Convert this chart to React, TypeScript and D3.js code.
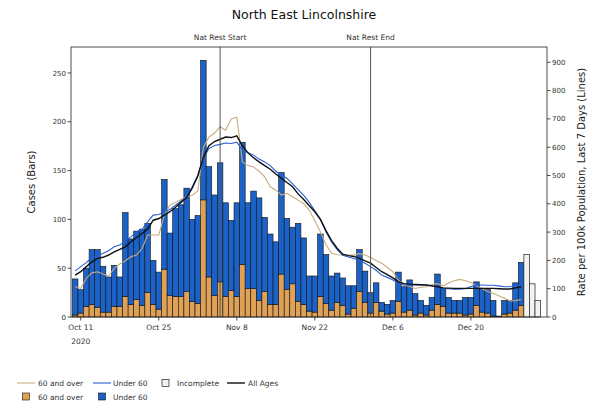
import React from "react";
import * as d3 from "d3";

const DAY = 86400000;
const START = Date.UTC(2020, 9, 10);

// Daily cases (bars), from Oct 10 2020
const over60Cases = [2, 4, 11, 13, 10, 5, 5, 11, 11, 21, 13, 18, 12, 25, 13, 8, 49, 22, 21, 21, 26, 16, 14, 120, 41, 22, 36, 21, 27, 21, 54, 29, 29, 17, 26, 13, 13, 44, 28, 34, 16, 13, 6, 5, 21, 14, 7, 15, 12, 3, 9, 26, 15, 4, 15, 6, 3, 4, 16, 5, 7, 2, 4, 2, 7, 13, 11, 4, 4, 4, 2, 3, 12, 5, 4, 1, 0, 3, 4, 7, 12];
const under60Cases = [37, 24, 39, 56, 59, 47, 36, 42, 30, 86, 67, 70, 78, 71, 45, 38, 92, 64, 90, 94, 106, 84, 90, 143, 113, 103, 122, 96, 72, 96, 125, 88, 100, 105, 76, 72, 64, 104, 73, 58, 80, 68, 36, 37, 64, 50, 35, 30, 28, 29, 23, 43, 32, 21, 20, 9, 10, 13, 30, 26, 31, 22, 13, 10, 13, 31, 18, 16, 13, 13, 18, 17, 24, 24, 24, 16, 1, 14, 13, 28, 44];
const incompleteCases = [64, 34, 17];

// 7-day rate per 100k (lines)
const rateOver60 = [107, 101, 137, 156, 160, 152, 145, 172, 187, 199, 213, 219, 242, 290, 290, 290, 360, 395, 405, 415, 425, 430, 445, 600, 636, 650, 672, 660, 700, 706, 548, 535, 530, 515, 495, 460, 448, 431, 437, 425, 413, 400, 378, 340, 300, 255, 225, 220, 219, 219, 219, 224, 219, 210, 200, 190, 175, 160, 130, 113, 108, 101, 105, 107, 115, 118, 110, 120, 128, 133, 128, 122, 110, 100, 90, 84, 75, 66, 57, 58, 62];
const rateUnder60 = [163, 178, 192, 211, 215, 225, 234, 248, 254, 269, 283, 301, 310, 336, 360, 362, 372, 380, 395, 410, 425, 460, 501, 560, 595, 606, 610, 615, 613, 618, 590, 580, 572, 558, 548, 535, 515, 500, 490, 470, 450, 430, 405, 375, 345, 300, 265, 238, 218, 212, 207, 200, 190, 178, 165, 148, 140, 131, 118, 113, 113, 113, 113, 113, 110, 105, 101, 100, 98, 98, 100, 108, 113, 113, 112, 112, 110, 107, 107, 110, 113];
const rateAllAges = [148, 160, 178, 195, 207, 211, 219, 230, 239, 248, 266, 281, 295, 311, 342, 348, 360, 372, 388, 405, 422, 455, 498, 565, 605, 620, 628, 636, 634, 640, 605, 580, 563, 548, 535, 522, 505, 490, 475, 460, 435, 415, 393, 372, 345, 305, 270, 243, 222, 217, 214, 207, 198, 190, 175, 160, 150, 138, 124, 118, 116, 115, 114, 113, 110, 107, 103, 102, 101, 101, 101, 101, 101, 101, 101, 101, 100, 99, 99, 103, 107];

const xTickDates = ["2020-10-11", "2020-10-25", "2020-11-08", "2020-11-22", "2020-12-06", "2020-12-20"];
const xTickLabels = ["Oct 11", "Oct 25", "Nov 8", "Nov 22", "Dec 6", "Dec 20"];
const yearLabel = "2020";
const casesTicks = [0, 50, 100, 150, 200, 250];
const rateTicks = [0, 100, 200, 300, 400, 500, 600, 700, 800, 900];
const eventDates = ["2020-11-05", "2020-12-02"];
const eventLabels = ["Nat Rest Start", "Nat Rest End"];

const BLUE = "#1a62c8";
const ORANGE = "#dea155";
const TAN = "#c9ab7c";
const LBLUE = "#2a5fd6";
const FONT = "DejaVu Sans, sans-serif";

const L = 71, R = 547, T = 47, B = 317;

export default function App() {
  const x = d3.scaleUtc().domain([START - 0.75 * DAY, START + 84.65 * DAY]).range([L, R]);
  const yL = d3.scaleLinear().domain([0, 276.6]).range([B, T]);
  const yR = d3.scaleLinear().domain([0, 954]).range([B, T]);
  const bw = x(START + DAY) - x(START);
  const dateOf = (i: number) => START + i * DAY;

  const mkLine = (vals: number[]) =>
    d3.line<number>().x((_, i) => x(dateOf(i))).y((v) => yR(v))(vals) || "";

  const parse = (s: string) => {
    const [yy, mm, dd] = s.split("-").map(Number);
    return Date.UTC(yy, mm - 1, dd);
  };

  const txt = "#333";

  return (
    <div style={{ position: "absolute", left: 0, top: 0 }}>
      <svg width={604} height={408} style={{ display: "block", background: "#fff" }} fontFamily={FONT}>
        <rect x={0} y={0} width={604} height={408} fill="#fff" />
        <text x={304} y={19} textAnchor="middle" fontSize={12.5} fill="#111">North East Lincolnshire</text>

        {/* bars */}
        {over60Cases.map((o, i) => {
          const u = under60Cases[i];
          const cx = x(dateOf(i));
          return (
            <g key={i}>
              <rect x={cx - bw / 2} y={yL(o)} width={bw} height={yL(0) - yL(o)} fill={ORANGE} stroke="#111" strokeWidth={0.6} />
              <rect x={cx - bw / 2} y={yL(o + u)} width={bw} height={yL(o) - yL(o + u)} fill={BLUE} stroke="#111" strokeWidth={0.6} />
            </g>
          );
        })}
        {incompleteCases.map((v, j) => {
          const cx = x(dateOf(over60Cases.length + j));
          return <rect key={"inc" + j} x={cx - bw / 2} y={yL(v)} width={bw} height={yL(0) - yL(v)} fill="#f2f2f2" stroke="#222" strokeWidth={0.7} />;
        })}

        {/* lines */}
        <path d={mkLine(rateOver60)} fill="none" stroke={TAN} strokeWidth={1.1} />
        <path d={mkLine(rateUnder60)} fill="none" stroke={LBLUE} strokeWidth={1.1} />
        <path d={mkLine(rateAllAges)} fill="none" stroke="#111" strokeWidth={1.4} />

        {/* event lines */}
        {eventDates.map((d, k) => {
          const ex = x(parse(d));
          return (
            <g key={"ev" + k}>
              <line x1={ex} x2={ex} y1={T} y2={B} stroke="#555" strokeWidth={1} />
              <text x={ex} y={40} textAnchor="middle" fontSize={7.5} fill={txt}>{eventLabels[k]}</text>
            </g>
          );
        })}

        {/* frame */}
        <rect x={L} y={T} width={R - L} height={B - T} fill="none" stroke="#222" strokeWidth={0.8} />

        {/* left axis */}
        {casesTicks.map((t) => (
          <g key={"l" + t}>
            <line x1={L - 3.5} x2={L} y1={yL(t)} y2={yL(t)} stroke="#222" strokeWidth={0.8} />
            <text x={L - 5} y={yL(t) + 2.6} textAnchor="end" fontSize={7} fill={txt}>{t}</text>
          </g>
        ))}
        <text transform={`translate(35,${(T + B) / 2}) rotate(-90)`} textAnchor="middle" fontSize={10} fill="#222">Cases (Bars)</text>

        {/* right axis */}
        {rateTicks.map((t) => (
          <g key={"r" + t}>
            <line x1={R} x2={R + 3.5} y1={yR(t)} y2={yR(t)} stroke="#222" strokeWidth={0.8} />
            <text x={R + 5} y={yR(t) + 2.6} textAnchor="start" fontSize={7} fill={txt}>{t}</text>
          </g>
        ))}
        <text transform={`translate(585,${(T + B) / 2}) rotate(-90)`} textAnchor="middle" fontSize={10} fill="#222">Rate per 100k Population, Last 7 Days (Lines)</text>

        {/* x axis */}
        {xTickDates.map((d, k) => {
          const tx = x(parse(d));
          return (
            <g key={"x" + k}>
              <line x1={tx} x2={tx} y1={B} y2={B + 3.5} stroke="#222" strokeWidth={0.8} />
              <text x={tx} y={B + 13} textAnchor="middle" fontSize={7.5} fill={txt}>{xTickLabels[k]}</text>
              {k === 0 && <text x={tx} y={B + 27} textAnchor="middle" fontSize={7.5} fill={txt}>{yearLabel}</text>}
            </g>
          );
        })}

        {/* legend */}
        <g fontSize={7.5} fill={txt}>
          <line x1={17} x2={35} y1={383} y2={383} stroke={TAN} strokeWidth={1.1} />
          <text x={38} y={386}>60 and over</text>
          <rect x={22.5} y={393} width={7} height={7} fill={ORANGE} stroke="#111" strokeWidth={0.6} />
          <text x={38} y={399.5}>60 and over</text>

          <line x1={93} x2={111} y1={383} y2={383} stroke={LBLUE} strokeWidth={1.1} />
          <text x={113} y={386}>Under 60</text>
          <rect x={98.5} y={393} width={7} height={7} fill={BLUE} stroke="#111" strokeWidth={0.6} />
          <text x={113} y={399.5}>Under 60</text>

          <rect x={162} y={379.5} width={7} height={7} fill="#f2f2f2" stroke="#222" strokeWidth={0.7} />
          <text x={177} y={386}>Incomplete</text>

          <line x1={227} x2={245} y1={383} y2={383} stroke="#111" strokeWidth={1.4} />
          <text x={248} y={386}>All Ages</text>
        </g>
      </svg>
    </div>
  );
}
